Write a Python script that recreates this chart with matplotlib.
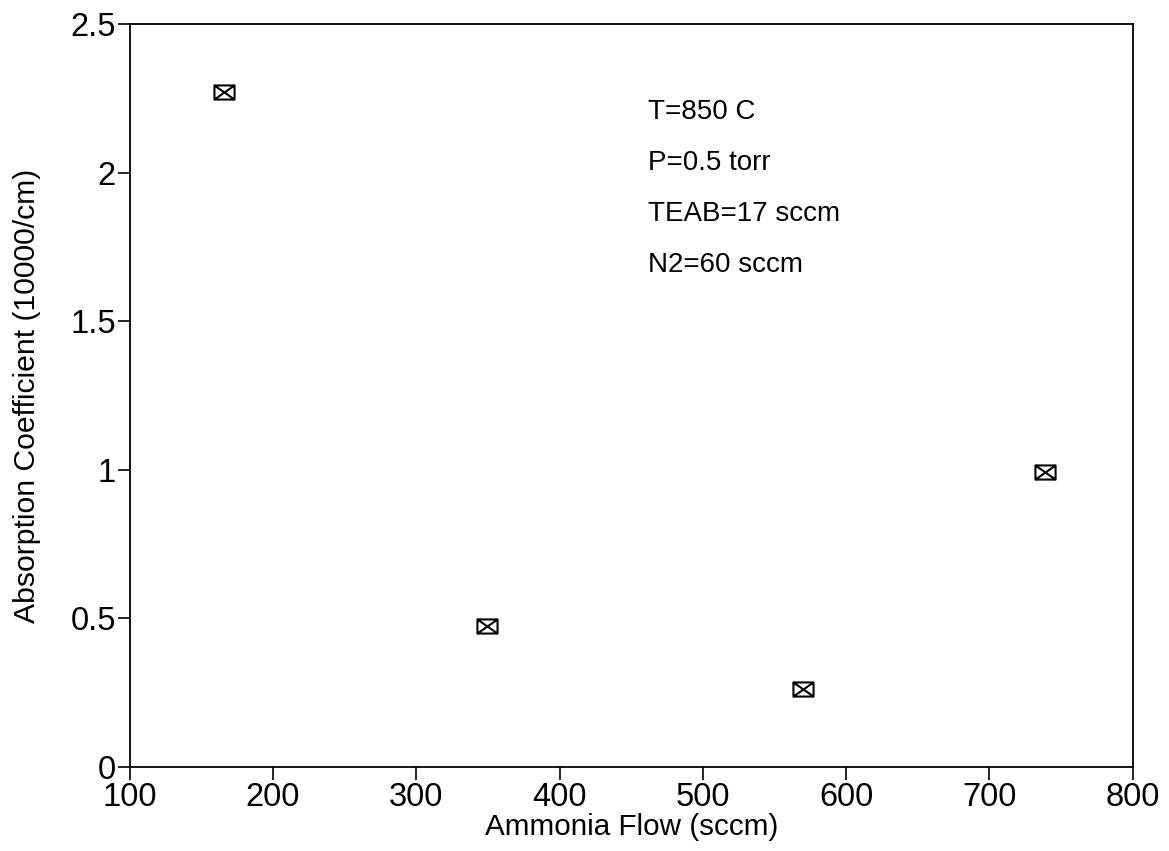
import matplotlib
matplotlib.use("Agg")
import matplotlib.pyplot as plt
from matplotlib.path import Path
import numpy as np

ammonia_flow = [166, 349, 570, 739]
absorption = [2.27, 0.475, 0.262, 0.993]
xticks = [100, 200, 300, 400, 500, 600, 700, 800]
yticks = [0, 0.5, 1, 1.5, 2, 2.5]
ytick_labels = ["0", "0.5", "1", "1.5", "2", "2.5"]
notes = ["T=850 C", "P=0.5 torr", "TEAB=17 sccm", "N2=60 sccm"]

plt.rcParams['font.family'] = ['Liberation Sans', 'DejaVu Sans']

# rectangle with X marker
w, h = 1.0, 0.7
verts = [(-w, -h), (w, -h), (w, h), (-w, h), (-w, -h),
         (-w, -h), (w, h), (-w, h), (w, -h)]
codes = [Path.MOVETO, Path.LINETO, Path.LINETO, Path.LINETO, Path.CLOSEPOLY,
         Path.MOVETO, Path.LINETO, Path.MOVETO, Path.LINETO]
box_x = Path(verts, codes)

fig = plt.figure(figsize=(11.69, 8.51), dpi=100)
ax = fig.add_axes([0.111, 0.0987, 0.858, 0.873])
ax.plot(ammonia_flow, absorption, linestyle='none', marker=box_x,
        markersize=14.5, markerfacecolor='white', markeredgecolor='black',
        markeredgewidth=1.5)

ax.set_xlim(100, 800)
ax.set_ylim(0, 2.5)
ax.set_xticks(xticks)
ax.set_xticklabels([str(v) for v in xticks])
ax.set_yticks(yticks)
ax.set_yticklabels(ytick_labels)
ax.tick_params(axis='both', direction='out', length=9, width=1.2,
               labelsize=23.5, colors='black')
ax.tick_params(axis='x', pad=2)
ax.tick_params(axis='y', pad=1)
for s in ax.spines.values():
    s.set_linewidth(1.3)

ax.set_xlabel("Ammonia Flow (sccm)", fontsize=21.3, labelpad=0)
ax.set_ylabel("Absorption Coefficient (10000/cm)", fontsize=21.7)
ax.yaxis.set_label_coords(-0.088, 0.5)

ypos = [2.205, 2.032, 1.862, 1.690]
for t, yv in zip(notes, ypos):
    ax.text(0.517, yv, t, transform=ax.get_yaxis_transform(), fontsize=20,
            va='center', ha='left')

fig.savefig("out.png", dpi=100)
